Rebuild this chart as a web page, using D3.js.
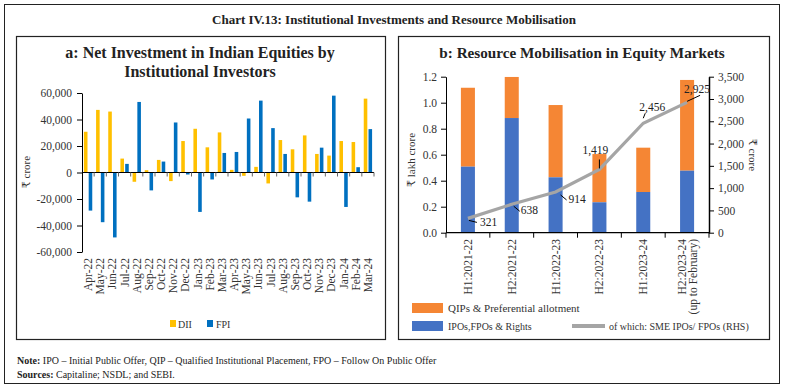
<!DOCTYPE html>
<html><head><meta charset="utf-8">
<script src="https://cdn.jsdelivr.net/npm/d3@7"></script>
<style>
body{margin:0;background:#fff;}
svg text{font-family:"Liberation Serif","DejaVu Serif",serif;}
</style></head>
<body><svg id="c" width="787" height="389"></svg>
<script>
// ---------- data ----------
const months = ["Apr-22","May-22","Jun-22","Jul-22","Aug-22","Sep-22","Oct-22","Nov-22","Dec-22","Jan-23","Feb-23","Mar-23","Apr-23","May-23","Jun-23","Jul-23","Aug-23","Sep-23","Oct-23","Nov-23","Dec-23","Jan-24","Feb-24","Mar-24"];
const dii = [30750,47250,46000,10500,-7000,1750,9500,-6500,23750,33000,19000,30250,2000,-2500,4250,-8250,24500,17500,28000,14000,12750,23750,23000,55750];
const fpi = [-28750,-37500,-49000,6500,53250,-13500,8250,37750,-1500,-29750,-5250,14750,15500,40750,54250,33500,14000,-18750,-22000,18750,58000,-26000,4000,32750];
const leftTicks = [-60000,-40000,-20000,0,20000,40000,60000];

const periods = ["H1:2021-22","H2:2021-22","H1:2022-23","H2:2022-23","H1:2023-24","H2:2023-24"];
const periodSub = ["","","","","","(up to February)"];
const ipos = [0.508,0.882,0.426,0.234,0.313,0.477];
const totals = [1.115,1.198,0.982,0.605,0.654,1.175];
const sme = [321,638,914,1419,2456,2925];
const lhsTicks = [0,0.2,0.4,0.6,0.8,1.0,1.2];
const rhsTicks = [0,500,1000,1500,2000,2500,3000,3500];

const svg = d3.select("#c");
const fmt = v => d3.format(",")(v).replace("\u2212","-");
const txt = "#222";

// frames
svg.append("rect").attr("x",4.5).attr("y",4.5).attr("width",775).attr("height",379).attr("fill","none").attr("stroke","#222").attr("stroke-width",1);
svg.append("rect").attr("x",16.5).attr("y",36.5).attr("width",369).attr("height",303).attr("fill","none").attr("stroke","#222").attr("stroke-width",1.2);
svg.append("rect").attr("x",398.5).attr("y",36.5).attr("width",371).attr("height",303).attr("fill","none").attr("stroke","#222").attr("stroke-width",1.2);

svg.append("text").attr("x",394).attr("y",24).attr("text-anchor","middle").attr("font-weight","bold").attr("font-size",13).attr("fill",txt)
  .text("Chart IV.13: Institutional Investments and Resource Mobilisation");

// ---------- left chart ----------
const gL = svg.append("g");
gL.append("text").attr("x",200).attr("y",58).attr("text-anchor","middle").attr("font-weight","bold").attr("font-size",16).attr("fill",txt).text("a: Net Investment in Indian Equities by");
gL.append("text").attr("x",200).attr("y",77).attr("text-anchor","middle").attr("font-weight","bold").attr("font-size",16).attr("fill",txt).text("Institutional Investors");

const x0 = d3.scaleBand().domain(months).range([82,374]);
const x1 = d3.scaleBand().domain(["DII","FPI"]).range([0,x0.bandwidth()]).paddingInner(0.25).paddingOuter(0.4);
const yA = d3.scaleLinear().domain([-60000,60000]).range([252,93]);
const colL = {DII:"#FFC000",FPI:"#0070C0"};

months.forEach((m,i)=>{
  [["DII",dii[i]],["FPI",fpi[i]]].forEach(([k,v])=>{
    gL.append("rect").attr("x",x0(m)+x1(k)).attr("width",x1.bandwidth())
      .attr("y",yA(Math.max(0,v))).attr("height",Math.abs(yA(v)-yA(0))).attr("fill",colL[k]);
  });
});
const axL = gL.append("g").attr("transform","translate(82,0)")
  .call(d3.axisLeft(yA).tickValues(leftTicks).tickFormat(fmt).tickSize(5).tickSizeOuter(0));
axL.select(".domain").attr("stroke","#000");
axL.selectAll("text").attr("font-size",11.5).attr("fill","#333").attr("x",-10);
// zero axis
const axX = gL.append("g").attr("transform",`translate(0,${yA(0)})`);
axX.append("line").attr("x1",82).attr("x2",374).attr("stroke","#000").attr("stroke-width",1.2);
months.forEach((m,i)=>{
  axX.append("line").attr("x1",x0(m)+x0.bandwidth()).attr("x2",x0(m)+x0.bandwidth()).attr("y1",0).attr("y2",4).attr("stroke","#666");
});
months.forEach(m=>{
  gL.append("text").attr("transform",`translate(${x0(m)+x0.bandwidth()/2+4},258) rotate(-90)`)
    .attr("text-anchor","end").attr("font-size",11.5).attr("fill","#333").text(m);
});
gL.append("text").attr("transform","translate(30,172) rotate(-90)").attr("text-anchor","middle").attr("font-size",11).attr("fill","#333").text("₹ crore");
// legend
gL.append("rect").attr("x",170).attr("y",320).attr("width",6).attr("height",7).attr("fill",colL.DII);
gL.append("text").attr("x",178).attr("y",328).attr("font-size",10).attr("fill","#333").text("DII");
gL.append("rect").attr("x",207).attr("y",320).attr("width",6).attr("height",7).attr("fill",colL.FPI);
gL.append("text").attr("x",216).attr("y",328).attr("font-size",10).attr("fill","#333").text("FPI");

// ---------- right chart ----------
const gR = svg.append("g");
gR.append("text").attr("x",582).attr("y",58).attr("text-anchor","middle").attr("font-weight","bold").attr("font-size",15.2).attr("fill",txt).text("b: Resource Mobilisation in Equity Markets");

const xb = d3.scaleBand().domain(periods).range([446,709]).paddingInner(0.68).paddingOuter(0.34);
const yl = d3.scaleLinear().domain([0,1.2]).range([232.7,76.7]);
const yr = d3.scaleLinear().domain([0,3500]).range([232.7,76.7]);
const cO="#F58634", cB="#4472C4", cG="#A5A5A5";

periods.forEach((p,i)=>{
  gR.append("rect").attr("x",xb(p)).attr("width",xb.bandwidth()).attr("y",yl(totals[i])).attr("height",yl(ipos[i])-yl(totals[i])).attr("fill",cO);
  gR.append("rect").attr("x",xb(p)).attr("width",xb.bandwidth()).attr("y",yl(ipos[i])).attr("height",yl(0)-yl(ipos[i])).attr("fill",cB);
});
const axl = gR.append("g").attr("transform","translate(446,0)").call(d3.axisLeft(yl).tickValues(lhsTicks).tickFormat(d3.format(".1f")).tickSize(5).tickSizeOuter(0));
axl.select(".domain").attr("stroke","#000");
axl.selectAll("text").attr("font-size",11.5).attr("fill","#333").attr("x",-9);
const axr = gR.append("g").attr("transform","translate(709,0)").call(d3.axisRight(yr).tickValues(rhsTicks).tickFormat(fmt).tickSize(5).tickSizeOuter(0));
axr.select(".domain").attr("stroke","#000").attr("stroke-width",1.5);
axr.selectAll("text").attr("font-size",11.5).attr("fill","#333").attr("x",9);
gR.append("line").attr("x1",446).attr("x2",709).attr("y1",yl(0)).attr("y2",yl(0)).attr("stroke","#000").attr("stroke-width",1.2);
const step = xb.step();
d3.range(7).forEach(i=>{
  const xx = 446 + i*step;
  gR.append("line").attr("x1",xx).attr("x2",xx).attr("y1",yl(0)).attr("y2",yl(0)+5).attr("stroke","#000");
});
periods.forEach((p,i)=>{
  const cx = xb(p)+xb.bandwidth()/2;
  const t = gR.append("text").attr("transform",`translate(${cx+4},239) rotate(-90)`).attr("text-anchor","end").attr("font-size",11.5).attr("fill","#333");
  if(periodSub[i]){
    t.attr("transform",`translate(${cx-1},239) rotate(-90)`);
    gR.append("text").attr("transform",`translate(${cx+10},239) rotate(-90)`).attr("text-anchor","end").attr("font-size",11.5).attr("fill","#333").text(periodSub[i]);
  }
  t.text(p);
});
gR.append("text").attr("transform","translate(415,160) rotate(-90)").attr("text-anchor","middle").attr("font-size",11).attr("fill","#333").text("₹ lakh crore");
gR.append("text").attr("transform","translate(749,155) rotate(90)").attr("text-anchor","middle").attr("font-size",11).attr("fill","#333").text("₹ crore");

// line
const line = d3.line().x((d,i)=>xb(periods[i])+xb.bandwidth()/2).y(d=>yr(d));
gR.append("path").datum(sme).attr("d",line).attr("fill","none").attr("stroke",cG).attr("stroke-width",3.2);
// labels with leaders: [dx1,dy1,dx2,dy2, tx,ty]
const lab = [[1,2,9,4,12,8],[2,2,8,7,9,10],[5,3,11,8,13,11],[0,-1,0,-10,-17,-15],[0,-5,2,-10,-4,-12],[0,-1,13,-7,-3,-9]];
sme.forEach((v,i)=>{
  const px = xb(periods[i])+xb.bandwidth()/2, py = yr(v);
  const L = lab[i];
  gR.append("line").attr("x1",px+L[0]).attr("y1",py+L[1]).attr("x2",px+L[2]).attr("y2",py+L[3]).attr("stroke","#000").attr("stroke-width",1);
  gR.append("text").attr("x",px+L[4]).attr("y",py+L[5]).attr("font-size",11.5).attr("fill","#222").text(fmt(v));
});
// legend
gR.append("rect").attr("x",412).attr("y",303).attr("width",31).attr("height",10).attr("fill",cO);
gR.append("text").attr("x",448).attr("y",312).attr("font-size",11).attr("fill","#333").text("QIPs & Preferential allotment");
gR.append("rect").attr("x",412).attr("y",321).attr("width",31).attr("height",10).attr("fill",cB);
gR.append("text").attr("x",448).attr("y",330).attr("font-size",10).attr("fill","#333").text("IPOs,FPOs & Rights");
gR.append("line").attr("x1",572).attr("x2",605).attr("y1",326).attr("y2",326).attr("stroke",cG).attr("stroke-width",4);
gR.append("text").attr("x",609).attr("y",330).attr("font-size",10).attr("fill","#333").text("of which: SME IPOs/ FPOs (RHS)");

// notes
const n1 = svg.append("text").attr("x",17).attr("y",364).attr("font-size",10).attr("fill","#222");
n1.append("tspan").attr("font-weight","bold").text("Note: ");
n1.append("tspan").text("IPO – Initial Public Offer, QIP – Qualified Institutional Placement, FPO – Follow On Public Offer");
const n2 = svg.append("text").attr("x",17).attr("y",378).attr("font-size",10).attr("fill","#222");
n2.append("tspan").attr("font-weight","bold").text("Sources: ");
n2.append("tspan").text("Capitaline; NSDL; and SEBI.");
</script></body></html>
